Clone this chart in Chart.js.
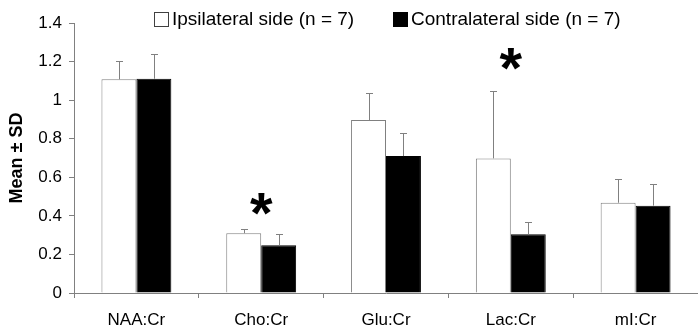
<!DOCTYPE html>
<html>
<head>
<meta charset="utf-8">
<style>
  html, body { margin: 0; padding: 0; background: #ffffff; }
  #wrap { width: 698px; height: 329px; }
</style>
<script src="https://cdn.jsdelivr.net/npm/chart.js@4/dist/chart.umd.min.js"></script>
</head>
<body>
<div id="wrap"><canvas id="c" width="698" height="329"></canvas></div>
<script>
const categories = ['NAA:Cr', 'Cho:Cr', 'Glu:Cr', 'Lac:Cr', 'mI:Cr'];
const ipsiLabel = 'Ipsilateral side (n = 7)';
const contraLabel = 'Contralateral side (n = 7)';
const ipsiMean = [1.108, 0.31, 0.897, 0.698, 0.468];
const ipsiSD = [0.096, 0.022, 0.142, 0.349, 0.122];
const contraMean = [1.111, 0.247, 0.71, 0.304, 0.453];
const contraSD = [0.128, 0.057, 0.118, 0.066, 0.111];
const sigCategories = ['Cho:Cr', 'Lac:Cr'];
const sigMarkY = [0.464, 1.213];
const yTitle = 'Mean \u00B1 SD';

const FONT = '"Liberation Sans", Arial, sans-serif';
const GRAY = '#808080';

const errorBars = {
  id: 'errorBars',
  afterDatasetsDraw(chart) {
    const ctx = chart.ctx;
    const y = chart.scales.y;
    const sds = [ipsiSD, contraSD];
    ctx.save();
    ctx.strokeStyle = GRAY;
    ctx.lineWidth = 1;
    chart.data.datasets.forEach((ds, di) => {
      const meta = chart.getDatasetMeta(di);
      meta.data.forEach((bar, i) => {
        const v = ds.data[i];
        const top = y.getPixelForValue(v + sds[di][i]);
        const base = y.getPixelForValue(v);
        const x = Math.round(bar.x) + 0.5;
        const t = Math.round(top) + 0.5;
        ctx.beginPath();
        ctx.moveTo(x, base);
        ctx.lineTo(x, t);
        ctx.moveTo(x - 3.5, t);
        ctx.lineTo(x + 3.5, t);
        ctx.stroke();
      });
    });
    ctx.restore();
  }
};

const marks = {
  id: 'marks',
  afterDraw(chart) {
    const ctx = chart.ctx;
    const xs = chart.scales.x, ys = chart.scales.y;
    ctx.save();
    // significance asterisks
    ctx.fillStyle = '#000';
    ctx.font = 'bold 58px ' + FONT;
    ctx.textAlign = 'center';
    ctx.textBaseline = 'alphabetic';
    sigCategories.forEach((cat, k) => {
      const cx = xs.getPixelForValue(categories.indexOf(cat));
      const cy = ys.getPixelForValue(sigMarkY[k]);
      const m = ctx.measureText('*');
      const off = (m.actualBoundingBoxAscent - m.actualBoundingBoxDescent) / 2;
      ctx.fillText('*', cx, cy + off);
    });
    // legend
    ctx.font = '19px ' + FONT;
    ctx.textAlign = 'left';
    ctx.textBaseline = 'middle';
    ctx.lineWidth = 1;
    ctx.fillStyle = '#fff';
    ctx.strokeStyle = '#404040';
    ctx.fillRect(154, 12, 14, 14);
    ctx.strokeRect(154.5, 12.5, 14, 14);
    ctx.fillStyle = '#000';
    ctx.fillText(ipsiLabel, 172, 20);
    ctx.fillRect(393, 12, 15, 15);
    ctx.fillText(contraLabel, 411, 20);
    ctx.restore();
  }
};

new Chart(document.getElementById('c'), {
  type: 'bar',
  data: {
    labels: categories,
    datasets: [
      { label: ipsiLabel, data: ipsiMean, backgroundColor: '#ffffff', borderColor: GRAY, borderWidth: 1 },
      { label: contraLabel, data: contraMean, backgroundColor: '#000000', borderColor: '#000000', borderWidth: 1 }
    ]
  },
  options: {
    responsive: false,
    animation: false,
    devicePixelRatio: 1,
    layout: { padding: { top: 23, right: 0, left: 0, bottom: 0 } },
    datasets: { bar: { categoryPercentage: 0.56, barPercentage: 1.0 } },
    plugins: { legend: { display: false }, tooltip: { enabled: false } },
    scales: {
      x: {
        afterFit(s) { s.height = 36; },
        grid: { display: true, drawOnChartArea: false, drawTicks: true, tickLength: 5, color: GRAY, offset: true },
        border: { display: true, color: GRAY, width: 1 },
        ticks: { color: '#000', font: { family: FONT, size: 17 }, padding: 12, maxRotation: 0 }
      },
      y: {
        min: 0, max: 1.4,
        afterFit(s) { s.width = 74; },
        grid: { display: true, drawOnChartArea: false, drawTicks: true, tickLength: 5, color: GRAY },
        border: { display: true, color: GRAY, width: 1 },
        ticks: {
          stepSize: 0.2, color: '#000', font: { family: FONT, size: 17 }, padding: 7,
          callback: (v) => String(Number(Number(v).toFixed(2)))
        },
        title: { display: true, text: yTitle, color: '#000', font: { family: FONT, size: 18, weight: 'bold' }, padding: { top: 6, bottom: 0 } }
      }
    }
  },
  plugins: [errorBars, marks]
});
</script>
</body>
</html>
